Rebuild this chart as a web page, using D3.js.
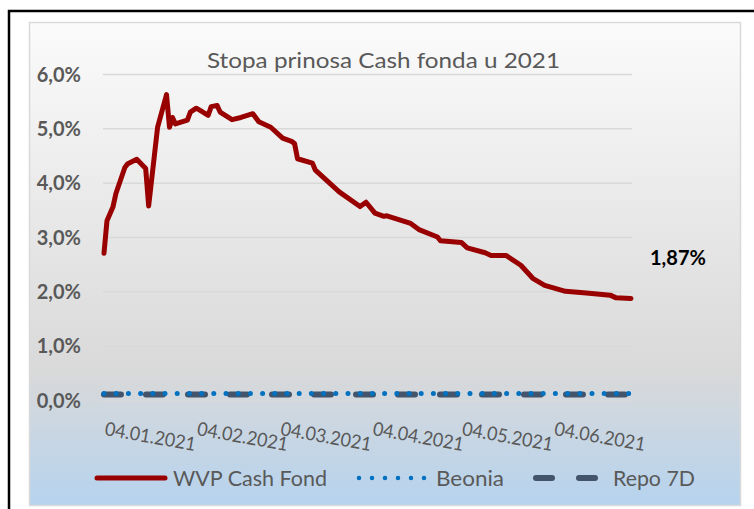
<!DOCTYPE html>
<html><head><meta charset="utf-8">
<script src="https://cdn.jsdelivr.net/npm/d3@7"></script>
<style>html,body{margin:0;padding:0;background:#fff;}svg{display:block;}</style>
</head><body>
<svg id="c" width="754" height="509"></svg>
<script>
// ---- data ----
const title = "Stopa prinosa Cash fonda u 2021";
const yTicks = [0, 1, 2, 3, 4, 5, 6];
const xTickDates = ["2021-01-04","2021-02-04","2021-03-04","2021-04-04","2021-05-04","2021-06-04"];
const xTickLabels = ["04.01.2021","04.02.2021","04.03.2021","04.04.2021","04.05.2021","04.06.2021"];
const seriesNames = ["WVP Cash Fond", "Beonia", "Repo 7D"];
const wvpDates = ["2021-01-04","2021-01-05","2021-01-07","2021-01-08","2021-01-11","2021-01-12","2021-01-15","2021-01-18","2021-01-19","2021-01-22","2021-01-25","2021-01-26","2021-01-27","2021-01-28","2021-02-01","2021-02-02","2021-02-04","2021-02-05","2021-02-08","2021-02-09","2021-02-11","2021-02-12","2021-02-16","2021-02-19","2021-02-23","2021-02-25","2021-03-01","2021-03-05","2021-03-08","2021-03-09","2021-03-10","2021-03-15","2021-03-16","2021-03-24","2021-03-31","2021-04-02","2021-04-05","2021-04-08","2021-04-09","2021-04-17","2021-04-20","2021-04-26","2021-04-27","2021-05-04","2021-05-06","2021-05-12","2021-05-14","2021-05-19","2021-05-21","2021-05-24","2021-05-28","2021-06-01","2021-06-08","2021-06-15","2021-06-23","2021-06-25","2021-06-30"];
const wvpValues = [2.70,3.30,3.55,3.80,4.28,4.35,4.43,4.26,3.57,5.02,5.62,5.02,5.20,5.08,5.15,5.30,5.37,5.34,5.24,5.40,5.42,5.30,5.16,5.20,5.27,5.12,5.02,4.82,4.76,4.72,4.44,4.36,4.23,3.83,3.56,3.64,3.44,3.38,3.39,3.25,3.13,3.00,2.93,2.90,2.80,2.71,2.66,2.66,2.59,2.48,2.24,2.11,2.00,1.97,1.93,1.88,1.87];
const refDates = ["2021-01-04","2021-02-01","2021-03-01","2021-04-01","2021-05-03","2021-06-01","2021-06-30"];
const beoniaValues = [0.12,0.12,0.12,0.12,0.12,0.12,0.12];
const repoValues = [0.10,0.10,0.10,0.10,0.10,0.10,0.10];
const lastLabel = "1,87%";

// ---- drawing ----
const parse = d3.timeParse("%Y-%m-%d");
const svg = d3.select("#c");
const font = "Lato, 'Open Sans', sans-serif";
const grey = "#595959";

const defs = svg.append("defs");
const grad = defs.append("linearGradient").attr("id","bg").attr("x1",0).attr("y1",0).attr("x2",0).attr("y2",1);
grad.append("stop").attr("offset","0%").attr("stop-color","#fbfbfb");
grad.append("stop").attr("offset","72%").attr("stop-color","#d9d9d9");
grad.append("stop").attr("offset","100%").attr("stop-color","#b6d3ee");

svg.append("rect").attr("width",754).attr("height",509).attr("fill","#fff");
svg.append("path").attr("d","M9,509 V11 H754").attr("fill","none").attr("stroke","#000").attr("stroke-width",2.5);
svg.append("rect").attr("x",29.5).attr("y",22.5).attr("width",711).attr("height",483)
  .attr("fill","url(#bg)").attr("stroke","#d9d9d9").attr("stroke-width",1.5);

const x = d3.scaleTime().domain([parse("2021-01-04"), parse("2021-06-30")]).range([104, 631]);
const y = d3.scaleLinear().domain([0, 6]).range([400, 74]);

// gridlines
const yAxis = d3.axisLeft(y).tickValues(yTicks).tickSize(-(632 - 103))
  .tickFormat(d => d3.format(".1f")(d).replace(".", ",") + "%").tickPadding(22);
const ga = svg.append("g").attr("transform","translate(103,0)").call(yAxis);
ga.select(".domain").remove();
ga.selectAll(".tick line").attr("stroke","#d9d9d9").attr("stroke-width",1.5);
ga.selectAll(".tick text").attr("fill",grey).attr("font-family",font).attr("font-weight","bold")
  .attr("font-size","20px").attr("dy","0.36em");

// x labels
const xl = svg.append("g");
xTickDates.forEach((d, i) => {
  xl.append("text").attr("transform", `translate(${x(parse(d))},435) rotate(10)`)
    .attr("font-family",font).attr("font-size","19px").attr("fill",grey)
    .attr("textLength",92).attr("lengthAdjust","spacingAndGlyphs").text(xTickLabels[i]);
});

// title
svg.append("text").attr("x",207).attr("y",68).attr("font-family",font).attr("font-size","22px")
  .attr("fill",grey).attr("textLength",353).attr("lengthAdjust","spacingAndGlyphs").text(title);

const line = d3.line().x(d => x(d[0])).y(d => y(d[1]));
const beo = refDates.map((d, i) => [parse(d), beoniaValues[i]]);
const rep = refDates.map((d, i) => [parse(d), repoValues[i]]);
const wvp = wvpDates.map((d, i) => [parse(d), wvpValues[i]]);

svg.append("path").attr("d", line(rep)).attr("fill","none").attr("stroke","#44546a")
  .attr("stroke-width",6).attr("stroke-linecap","round").attr("stroke-dasharray","17,25");
svg.append("path").attr("d", line(beo)).attr("fill","none").attr("stroke","#0070c0")
  .attr("stroke-width",5).attr("stroke-linecap","round").attr("stroke-dasharray","0,12.2");
svg.append("path").attr("d", line(wvp)).attr("fill","none").attr("stroke","#990000")
  .attr("stroke-width",5).attr("stroke-linejoin","round").attr("stroke-linecap","round");

// last value label
const last = wvp[wvp.length - 1];
svg.append("text").attr("x", x(last[0]) + 19).attr("y", y(last[1]) - 33)
  .attr("font-family",font).attr("font-weight","bold").attr("font-size","20px").attr("fill","#000")
  .text(lastLabel);

// legend
const lg = svg.append("g");
const ly = 478;
lg.append("line").attr("x1",97).attr("x2",165).attr("y1",ly).attr("y2",ly)
  .attr("stroke","#990000").attr("stroke-width",5).attr("stroke-linecap","round");
lg.append("text").attr("x",173).attr("y",ly+8).attr("font-family",font).attr("font-size","21px")
  .attr("fill",grey).attr("textLength",154).attr("lengthAdjust","spacingAndGlyphs").text(seriesNames[0]);
lg.append("line").attr("x1",359).attr("x2",425).attr("y1",ly).attr("y2",ly)
  .attr("stroke","#0070c0").attr("stroke-width",4.5).attr("stroke-linecap","round").attr("stroke-dasharray","0,13");
lg.append("text").attr("x",436).attr("y",ly+8).attr("font-family",font).attr("font-size","21px")
  .attr("fill",grey).attr("textLength",68).attr("lengthAdjust","spacingAndGlyphs").text(seriesNames[1]);
lg.append("line").attr("x1",536).attr("x2",597).attr("y1",ly).attr("y2",ly)
  .attr("stroke","#44546a").attr("stroke-width",6).attr("stroke-linecap","round").attr("stroke-dasharray","16,27");
lg.append("text").attr("x",613).attr("y",ly+8).attr("font-family",font).attr("font-size","21px")
  .attr("fill",grey).attr("textLength",82).attr("lengthAdjust","spacingAndGlyphs").text(seriesNames[2]);
</script>
</body></html>
